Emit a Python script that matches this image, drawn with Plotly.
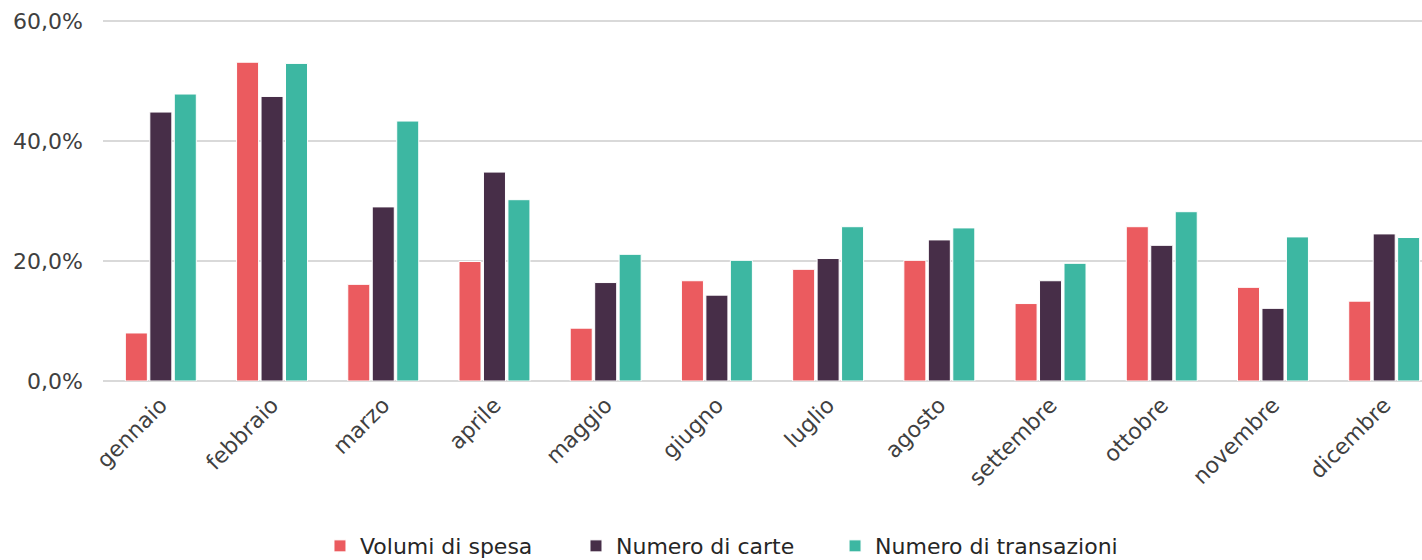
import plotly.graph_objects as go

mesi = ["gennaio", "febbraio", "marzo", "aprile", "maggio", "giugno",
        "luglio", "agosto", "settembre", "ottobre", "novembre", "dicembre"]
volumi_spesa = [8.0, 53.1, 16.1, 19.9, 8.8, 16.7, 18.6, 20.1, 12.9, 25.7, 15.6, 13.3]
numero_carte = [44.8, 47.4, 29.0, 34.8, 16.4, 14.3, 20.4, 23.5, 16.7, 22.6, 12.1, 24.5]
numero_transazioni = [47.8, 52.9, 43.3, 30.2, 21.1, 20.1, 25.7, 25.5, 19.6, 28.2, 24.0, 23.9]
y_ticks = [0, 20, 40, 60]
y_tick_labels = ["0,0%", "20,0%", "40,0%", "60,0%"]

series = [
    ("Volumi di spesa", volumi_spesa, "#EB5B5F", "legend"),
    ("Numero di carte", numero_carte, "#472E48", "legend2"),
    ("Numero di transazioni", numero_transazioni, "#3DB7A2", "legend3"),
]

fig = go.Figure()
for name, vals, color, leg in series:
    fig.add_trace(go.Bar(
        x=mesi, y=vals, name=name, legend=leg,
        marker=dict(color=color, line=dict(color="white", width=1)),
    ))

axis_font = dict(family="DejaVu Sans", size=22, color="#404040")
legend_common = dict(orientation="h", xanchor="left", y=-0.456,
                     yanchor="middle", itemwidth=30,
                     font=dict(family="DejaVu Sans", size=22, color="#262626"))
fig.update_layout(
    width=1422, height=560,
    margin=dict(l=103, r=0, t=19, b=179, autoexpand=False),
    plot_bgcolor="white", paper_bgcolor="white",
    barmode="group", bargap=0.34, bargroupgap=0.1,
    xaxis=dict(tickangle=-45, tickfont=axis_font, showgrid=False,
               showline=False, ticks="", automargin=False,
               ticklabelstandoff=6, range=[-0.52, 11.34]),
    yaxis=dict(range=[0, 60.3], tickvals=y_ticks, ticktext=y_tick_labels,
               tickfont=axis_font, showgrid=True, gridcolor="#D9D9D9",
               gridwidth=1.5, zeroline=True, zerolinecolor="#D9D9D9",
               zerolinewidth=1.5, ticks="", ticklabelstandoff=19,
               automargin=False),
    legend=dict(x=0.1645, **legend_common),
    legend2=dict(x=0.3586, **legend_common),
    legend3=dict(x=0.555, **legend_common),
    showlegend=True,
)

fig.write_html("out.html", config={"displayModeBar": False},
               post_script="document.body.style.margin='0';document.body.style.padding='0';")
